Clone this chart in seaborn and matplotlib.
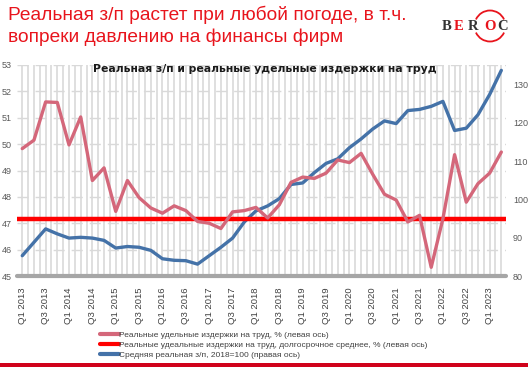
import matplotlib
matplotlib.use("Agg")
import matplotlib.pyplot as plt
import matplotlib.transforms as mtransforms
from matplotlib.patches import Arc, Rectangle
from matplotlib.lines import Line2D
import seaborn as sns

# quarters Q1 2013 .. Q2 2023
quarters = [f"Q{q} {y}" for y in range(2013, 2024) for q in range(1, 5)][:42]

# real unit labour costs, % (left axis)
ulc = [49.83, 50.15, 51.6, 51.58, 49.97, 51.03, 48.62, 49.1, 47.45, 48.62,
       47.97, 47.58, 47.38, 47.66, 47.48, 47.07, 47.0, 46.8, 47.43, 47.48,
       47.6, 47.2, 47.7, 48.55, 48.75, 48.7, 48.9, 49.4, 49.3, 49.65,
       48.85, 48.1, 47.88, 47.05, 47.3, 45.33, 47.17, 49.6, 47.8, 48.5,
       48.9, 49.7]
ulc_mean = 47.15

# average real wage, 2018=100 (right axis)
wage = [85.3, 88.8, 92.3, 91.0, 89.9, 90.1, 89.9, 89.3, 87.3, 87.7,
        87.5, 86.7, 84.5, 84.1, 84.0, 83.1, 85.3, 87.5, 89.9, 94.1,
        97.0, 98.3, 100.2, 103.9, 104.3, 107.0, 109.4, 110.6, 113.5, 115.8,
        118.4, 120.5, 119.8, 123.2, 123.5, 124.3, 125.6, 118.0, 118.6, 122.1,
        127.4, 133.7]

tick_labels = quarters[::2]
left_ticks = [45, 46, 47, 48, 49, 50, 51, 52, 53]
right_ticks = [80, 90, 100, 110, 120, 130]

labels = ["Реальные удельные издержки на труд, % (левая ось)",
          "Реальные удеальные издержки на труд, долгосрочное среднее, % (левая ось)",
          "Средняя реальная з/п, 2018=100 (правая ось)"]

c_pink = "#d4677a"
c_red = "#ff0000"
c_blue = "#4472a8"

sns.set_style("white")
plt.rcParams["font.family"] = ["Liberation Sans", "DejaVu Sans"]

fig = plt.figure(figsize=(5.28, 3.67), dpi=100)
ax = fig.add_axes([17 / 528, 1 - 276 / 367, (506 - 17) / 528, (276 - 65) / 367])
ax2 = ax.twinx()

x = list(range(len(quarters)))

# grid drawn on the lower (right-axis) layer so the lines sit on top of it
ax2.set_ylim(80, 135.1)
for g in [i * 0.5 for i in range(0, 2 * len(quarters))]:
    ax2.axvline(g, color="#dcdcdc", lw=1.3, zorder=0)
for t in left_ticks[1:]:
    # horizontal gridlines at left-axis units, mapped to the right scale
    ax2.axhline(80 + (t - 45) * (135.1 - 80) / 8, color="#d9d9d9", lw=1.0,
                ls=(0, (8, 5)), zorder=0.5)

sns.lineplot(x=x, y=wage, ax=ax2, color=c_blue, lw=2.4, zorder=3)
sns.lineplot(x=x, y=ulc, ax=ax, color=c_pink, lw=2.4, zorder=3)
ax.axhline(ulc_mean, color=c_red, lw=3.2, zorder=2)

ax.set_xlim(-0.45, 41.4)
ax.set_ylim(45, 53)
ax2.set_ylim(80, 135.1)
ax.set_yticks(left_ticks)
ax2.set_yticks(right_ticks)
ax.set_xticks(x[::2])
ax.set_xticklabels(tick_labels, rotation=90, fontsize=6.8, color="#404040")
ax.tick_params(axis="x", length=0, pad=8)
ax.tick_params(axis="y", length=0, pad=4, labelsize=6.5, labelcolor="#595959")
ax2.tick_params(axis="y", length=0, pad=5, labelsize=6.5, labelcolor="#595959")
ax.set_xlabel("")
ax.set_ylabel("")
ax2.set_ylabel("")

for a in (ax, ax2):
    for s in ("top", "left", "right", "bottom"):
        a.spines[s].set_visible(False)
ax.axhline(45, color="#a6a6a6", lw=3, zorder=4, clip_on=False)
ax.set_zorder(ax2.get_zorder() + 1)
ax.patch.set_visible(False)

# chart title
fig.text(265 / 528, 1 - 69 / 367, "Реальная з/п и реальные удельные издержки на труд",
         ha="center", va="center", fontsize=7.8, fontweight="bold", color="#1a1a1a",
         family=["DejaVu Sans"])

# slide title
fig.text(8 / 528, 1 - 15 / 367, "Реальная з/п растет при любой погоде, в т.ч.",
         ha="left", va="center", fontsize=13.8, color="#e8141c")
fig.text(8 / 528, 1 - 37 / 367, "вопреки давлению на финансы фирм",
         ha="left", va="center", fontsize=13.8, color="#e8141c")

# logo
ident = mtransforms.IdentityTransform()
for ch, xp, col in [("B", 447, "#333333"), ("E", 459, "#e8141c"), ("R", 473, "#333333"),
                    ("O", 490, "#e8141c"), ("C", 503, "#333333")]:
    fig.text(xp / 528, 1 - 26 / 367, ch, ha="center", va="center", fontsize=10.5,
             fontweight="bold", color=col, family=["Liberation Serif"])
for t1, t2 in [(25, 155), (205, 335)]:
    arc = Arc((490, 367 - 26), 31, 31, theta1=t1, theta2=t2, color="#e8141c",
              lw=1.3, transform=ident)
    fig.add_artist(arc)

# legend
handles = [Line2D([], [], color=c_pink, lw=3),
           Line2D([], [], color=c_red, lw=3),
           Line2D([], [], color=c_blue, lw=3)]
fig.legend(handles, labels, loc="upper left", bbox_to_anchor=(96 / 528, 1 - 327 / 367),
           frameon=False, fontsize=6, handlelength=2.3, handletextpad=0.0,
           labelspacing=0.25, borderpad=0, labelcolor="#404040")

# bottom red band
fig.add_artist(Rectangle((0, 0), 1, 4 / 367, transform=fig.transFigure,
                         color="#d0021b", lw=0))

fig.savefig("out.png", dpi=100)
